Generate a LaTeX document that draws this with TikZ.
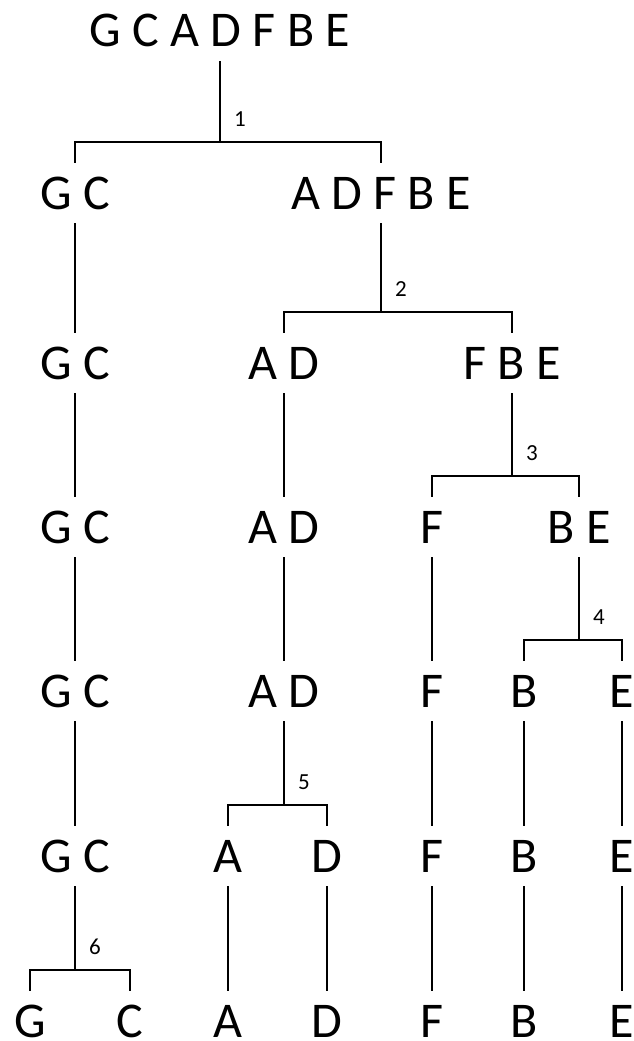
\documentclass[tikz,border=0pt]{standalone}
\usepackage{fontspec}
\setmainfont{Carlito}
\begin{document}
\begin{tikzpicture}[x=1pt, y=-1pt,
		grp/.style={inner sep=0pt, text height=32pt, text depth=0pt, font=\fontsize{50}{50}\selectfont},
		num/.style={inner sep=0pt, anchor=south west, xshift=14pt, yshift=15pt, font=\fontsize{23}{23}\selectfont},
		wire/.style={line width=1.6pt},
		link/.style={wire, shorten <=14pt, shorten >=14pt}]
	\useasboundingbox (0,0) rectangle (634,1041);
	
	% 各层分组
	\node[grp] (n0) at (220,31) {G C A D F B E};
	
	\node[grp] (gc1) at (75,193) {G C};
	\node[grp] (adfbe1) at (381,193) {A D F B E};
	
	\node[grp] (gc2) at (75,363) {G C};
	\node[grp] (ad2) at (284,363) {A D};
	\node[grp] (fbe2) at (512,363) {F B E};
	
	\node[grp] (gc3) at (75,527) {G C};
	\node[grp] (ad3) at (284,527) {A D};
	\node[grp] (f3) at (432,527) {F};
	\node[grp] (be3) at (579,527) {B E};
	
	\node[grp] (gc4) at (75,691) {G C};
	\node[grp] (ad4) at (284,691) {A D};
	\node[grp] (f4) at (432,691) {F};
	\node[grp] (b4) at (524,691) {B};
	\node[grp] (e4) at (622,691) {E};
	
	\node[grp] (gc5) at (75,856) {G C};
	\node[grp] (a5) at (228,856) {A};
	\node[grp] (d5) at (327,856) {D};
	\node[grp] (f5) at (432,856) {F};
	\node[grp] (b5) at (524,856) {B};
	\node[grp] (e5) at (622,856) {E};
	
	\node[grp] (g6) at (30,1021) {G};
	\node[grp] (c6) at (130,1021) {C};
	\node[grp] (a6) at (228,1021) {A};
	\node[grp] (d6) at (327,1021) {D};
	\node[grp] (f6) at (432,1021) {F};
	\node[grp] (b6) at (524,1021) {B};
	\node[grp] (e6) at (622,1021) {E};
	
	% 分裂点
	\path (n0.south |- gc1.north) ++(0,-35) coordinate (j1);
	\path (adfbe1.south |- ad2.north) ++(0,-35) coordinate (j2);
	\path (fbe2.south |- f3.north) ++(0,-35) coordinate (j3);
	\path (be3.south |- b4.north) ++(0,-35) coordinate (j4);
	\path (ad4.south |- a5.north) ++(0,-35) coordinate (j5);
	\path (gc5.south |- g6.north) ++(0,-35) coordinate (j6);
	
	% 分裂（竖线 + 横杠）
	\draw[wire] ([yshift=-14pt]n0.south) -- (j1);
	\draw[wire] ([yshift=14pt]gc1.north) |- (j1) -| ([yshift=14pt]adfbe1.north);
	\node[num] at (j1) {1};
	
	\draw[wire] ([yshift=-14pt]adfbe1.south) -- (j2);
	\draw[wire] ([yshift=14pt]ad2.north) |- (j2) -| ([yshift=14pt]fbe2.north);
	\node[num] at (j2) {2};
	
	\draw[wire] ([yshift=-14pt]fbe2.south) -- (j3);
	\draw[wire] ([yshift=14pt]f3.north) |- (j3) -| ([yshift=14pt]be3.north);
	\node[num] at (j3) {3};
	
	\draw[wire] ([yshift=-14pt]be3.south) -- (j4);
	\draw[wire] ([yshift=14pt]b4.north) |- (j4) -| ([yshift=14pt]e4.north);
	\node[num] at (j4) {4};
	
	\draw[wire] ([yshift=-14pt]ad4.south) -- (j5);
	\draw[wire] ([yshift=14pt]a5.north) |- (j5) -| ([yshift=14pt]d5.north);
	\node[num] at (j5) {5};
	
	\draw[wire] ([yshift=-14pt]gc5.south) -- (j6);
	\draw[wire] ([yshift=14pt]g6.north) |- (j6) -| ([yshift=14pt]c6.north);
	\node[num] at (j6) {6};
	
	% 直连
	\draw[link] (gc1) -- (gc2);
	\draw[link] (gc2) -- (gc3);
	\draw[link] (gc3) -- (gc4);
	\draw[link] (gc4) -- (gc5);
	\draw[link] (ad2) -- (ad3);
	\draw[link] (ad3) -- (ad4);
	\draw[link] (f3) -- (f4);
	\draw[link] (f4) -- (f5);
	\draw[link] (f5) -- (f6);
	\draw[link] (b4) -- (b5);
	\draw[link] (b5) -- (b6);
	\draw[link] (e4) -- (e5);
	\draw[link] (e5) -- (e6);
	\draw[link] (a5) -- (a6);
	\draw[link] (d5) -- (d6);
\end{tikzpicture}
\end{document}
